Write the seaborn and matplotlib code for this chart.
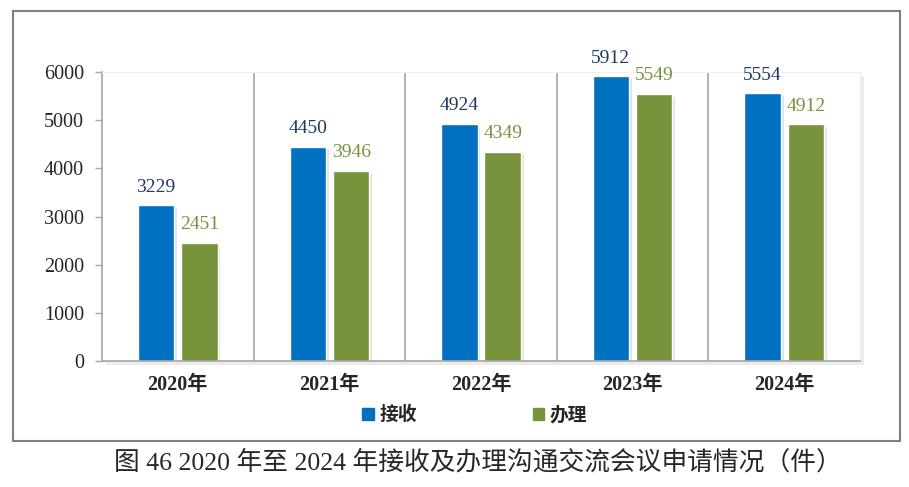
import pandas as pd
import matplotlib.pyplot as plt
import matplotlib.patches as mpatches
import matplotlib.patheffects as pe
import seaborn as sns

# Data
years = ['2020年', '2021年', '2022年', '2023年', '2024年']
received = [3229, 4450, 4924, 5912, 5554]
handled = [2451, 3946, 4349, 5549, 4912]
series = ['接收', '办理']

df = pd.DataFrame({
    'year': years * 2,
    'count': received + handled,
    'type': [series[0]] * len(years) + [series[1]] * len(years),
})

blue = '#0070C0'
green = '#77933C'
serif_cjk = ['Liberation Serif', 'Noto Sans CJK SC']

sns.set_style('white')
plt.rcParams['font.family'] = serif_cjk

fig = plt.figure(figsize=(9.09, 4.87), dpi=100)
ax = fig.add_axes([102 / 909, 1 - 361 / 487, 758 / 909, 289 / 487])

sns.barplot(data=df, x='year', y='count', hue='type', hue_order=series,
            palette=[blue, green], width=0.572, gap=0.16, saturation=1,
            legend=False, ax=ax)

# soft shadows like the office chart
for bar in ax.patches:
    bar.set_path_effects([pe.SimplePatchShadow(offset=(2, -2), alpha=0.12),
                          pe.Normal()])
ax.patch.set_path_effects([pe.SimplePatchShadow(offset=(3, -3), alpha=0.1),
                           pe.Normal()])

label_colors = ['#1F3864', '#76923C']
for cont, col in zip(ax.containers, label_colors):
    ax.bar_label(cont, fmt='%d', padding=7, color=col, fontsize=14,
                 family='Liberation Serif', clip_on=False)

ax.set_xlim(-0.5, 4.5)
ax.set_ylim(0, 6000)
ax.set_yticks(range(0, 6001, 1000))
ax.set_xlabel('')
ax.set_ylabel('')
ax.tick_params(axis='y', labelsize=14.5, length=5, width=1, color='#A6A6A6',
               direction='out', left=True, pad=8)
ax.tick_params(axis='x', length=0, pad=10)
for lab in ax.get_xticklabels():
    lab.set_fontsize(14.5)
    lab.set_fontweight('bold')

for x in [0.5, 1.5, 2.5, 3.5]:
    ax.axvline(x, color='#A6A6A6', lw=1.2, zorder=0)

for side in ['top', 'right']:
    ax.spines[side].set_visible(True)
    ax.spines[side].set_color('#F0F0F0')
    ax.spines[side].set_linewidth(0.8)
for side in ['left', 'bottom']:
    ax.spines[side].set_color('#A6A6A6')
    ax.spines[side].set_linewidth(1.2)

handles = [mpatches.Patch(color=blue, label=series[0]),
           mpatches.Patch(color=green, label=series[1])]
fig.legend(handles=handles, loc='center', bbox_to_anchor=(475 / 909, 1 - 415 / 487),
           ncol=2, frameon=False, columnspacing=6.2, handlelength=0.6,
           handleheight=0.6, handletextpad=0.3,
           prop={'family': serif_cjk, 'weight': 'bold', 'size': 13.5})

frame = mpatches.Rectangle((13 / 909, 1 - 441 / 487), 887 / 909, 430 / 487,
                           transform=fig.transFigure, fill=False,
                           edgecolor='#7F7F7F', lw=1.5)
fig.patches.append(frame)

fig.text(478 / 909, 1 - 462 / 487,
         '图 46 2020 年至 2024 年接收及办理沟通交流会议申请情况（件）',
         ha='center', va='center', fontsize=18.5, family=serif_cjk)

fig.savefig('out.png', dpi=100)
